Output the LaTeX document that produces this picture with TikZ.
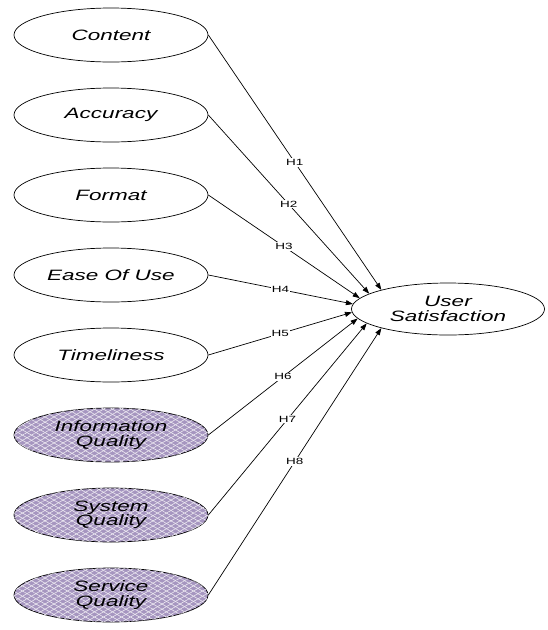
\documentclass[tikz,border=0pt]{standalone}
\usepackage{fontspec}
\newfontfamily\diagfont[FakeStretch=1.5]{Liberation Sans}
\usetikzlibrary{shapes.geometric,arrows.meta,patterns.meta}
\definecolor{qualpurple}{RGB}{166,150,192}

\begin{document}
\begin{tikzpicture}[x=1pt,y=-1pt,line width=0.7pt,
  factor/.style={ellipse,draw=black,fill=white,minimum width=194pt,minimum height=54pt,inner sep=0pt,align=center,font=\diagfont\itshape\fontsize{15}{14.5}\selectfont},
  quality/.style={factor,fill=qualpurple,
    postaction={pattern={Lines[angle=30,distance=4.5pt,line width=0.6pt]},pattern color=white!80!qualpurple},
    postaction={pattern={Lines[angle=-30,distance=4.5pt,line width=0.6pt]},pattern color=white!80!qualpurple}},
  hyp/.style={-{Triangle[length=7pt,width=5pt]},line width=0.7pt},
  hlabel/.style={fill=white,inner sep=1pt,pos=0.5,font=\diagfont\fontsize{9}{9}\selectfont}]
\useasboundingbox (0,0) rectangle (548,630);

\node[factor] (content) at (111,35){Content};
\node[factor] (accuracy) at (111,115){Accuracy};
\node[factor] (format) at (111,195){Format};
\node[factor] (ease) at (111,275){Ease Of Use};
\node[factor] (timeliness) at (111,355){Timeliness};
\node[quality] (infoq) at (111,435){Information\\Quality};
\node[quality] (sysq) at (111,515){System\\Quality};
\node[quality] (servq) at (111,595){Service\\Quality};

\node[factor,minimum width=193pt,minimum height=52pt] (usat) at (448,309){User\\Satisfaction};

\draw[hyp] (content.east) to node[hlabel]{H1} (usat.164);
\draw[hyp] (accuracy.east) to node[hlabel]{H2} (usat.169);
\draw[hyp] (format.east) to node[hlabel]{H3} (usat.173);
\draw[hyp] (ease.east) to node[hlabel]{H4} (usat.177.5);
\draw[hyp] (timeliness.east) to node[hlabel]{H5} (usat.182);
\draw[hyp] (infoq.east) to node[hlabel]{H6} (usat.186);
\draw[hyp] (sysq.east) to node[hlabel]{H7} (usat.190);
\draw[hyp] (servq.east) to node[hlabel]{H8} (usat.196.5);

\end{tikzpicture}
\end{document}
